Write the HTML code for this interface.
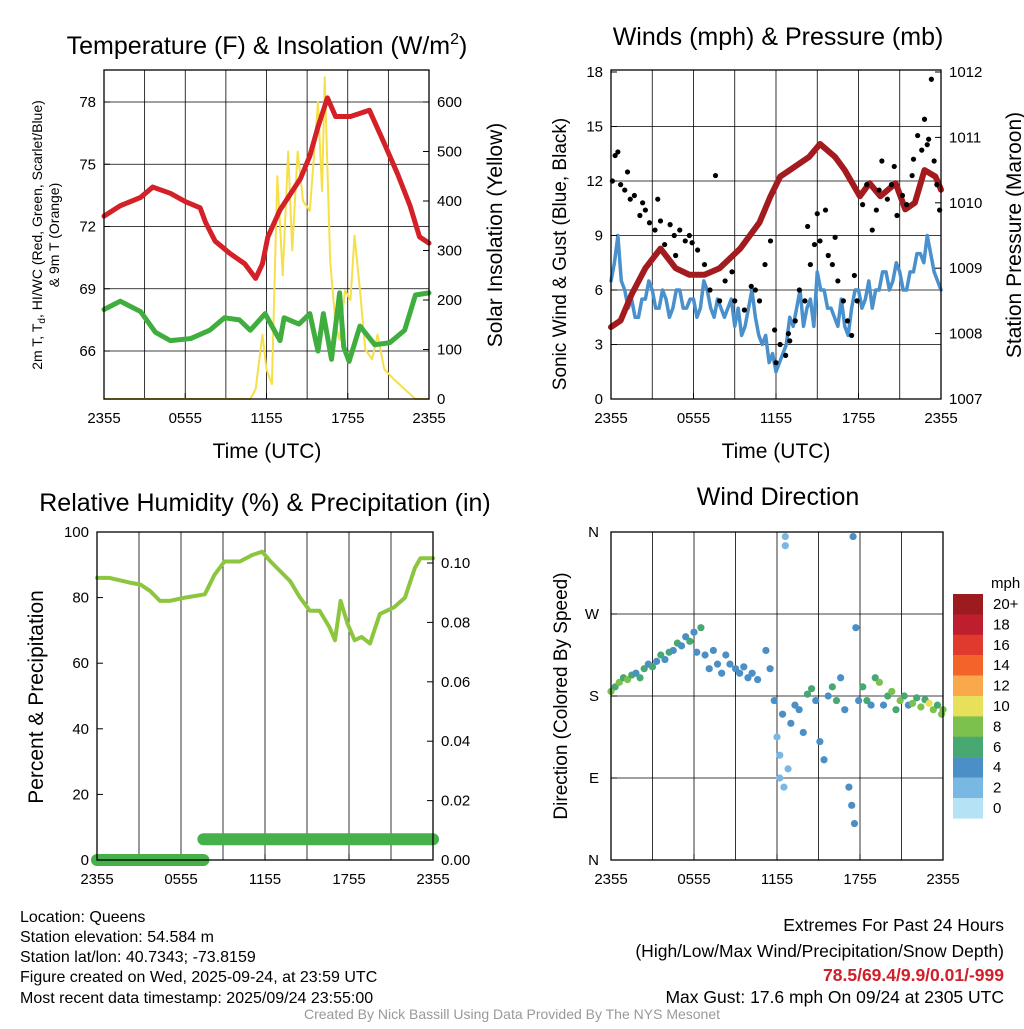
<!DOCTYPE html>
<html><head><meta charset="utf-8"><style>
body{margin:0;background:#fff;}
svg{font-family:"Liberation Sans",sans-serif;}
.t{font-size:15px;fill:#000}
</style></head><body>
<svg id="s" width="1024" height="1024" viewBox="0 0 1024 1024" xmlns="http://www.w3.org/2000/svg">
<g font-size="25">
<text x="267" y="54" text-anchor="middle">Temperature (F) &amp; Insolation (W/m<tspan font-size="16" dy="-10">2</tspan><tspan dy="10">)</tspan></text>
<text x="778" y="45" text-anchor="middle">Winds (mph) &amp; Pressure (mb)</text>
<text x="265" y="511" text-anchor="middle">Relative Humidity (%) &amp; Precipitation (in)</text>
<text x="778" y="505" text-anchor="middle">Wind Direction</text>
</g>
<g font-size="21">
<text x="267" y="458" text-anchor="middle">Time (UTC)</text>
<text x="776" y="458" text-anchor="middle">Time (UTC)</text>
<text transform="translate(502,235) rotate(-90)" text-anchor="middle">Solar Insolation (Yellow)</text>
<text transform="translate(566,254) rotate(-90)" text-anchor="middle" font-size="19">Sonic Wind &amp; Gust (Blue, Black)</text>
<text transform="translate(1021,235) rotate(-90)" text-anchor="middle">Station Pressure (Maroon)</text>
<text transform="translate(43,697) rotate(-90)" text-anchor="middle">Percent &amp; Precipitation</text>
<text transform="translate(567,696) rotate(-90)" text-anchor="middle" font-size="19">Direction (Colored By Speed)</text>
<text transform="translate(42,235) rotate(-90)" text-anchor="middle" font-size="14">2m T, T<tspan font-size="10" dy="3">d</tspan><tspan dy="-3">, HI/WC (Red, Green, Scarlet/Blue)</tspan></text>
<text transform="translate(59,235) rotate(-90)" text-anchor="middle" font-size="14">&amp; 9m T (Orange)</text>
</g>
<g font-size="16">
<text x="20" y="922">Location: Queens</text>
<text x="20" y="942">Station elevation: 54.584 m</text>
<text x="20" y="962">Station lat/lon: 40.7343; -73.8159</text>
<text x="20" y="982">Figure created on Wed, 2025-09-24, at 23:59 UTC</text>
<text x="20" y="1003">Most recent data timestamp: 2025/09/24 23:55:00</text>
</g>
<g font-size="17.5" text-anchor="end">
<text x="1004" y="931">Extremes For Past 24 Hours</text>
<text x="1004" y="957">(High/Low/Max Wind/Precipitation/Snow Depth)</text>
<text x="1004" y="981" fill="#d0202a" font-weight="bold">78.5/69.4/9.9/0.01/-999</text>
<text x="1004" y="1003">Max Gust: 17.6 mph On 09/24 at 2305 UTC</text>
</g>
<text x="512" y="1019" text-anchor="middle" font-size="14" fill="#999">Created By Nick Bassill Using Data Provided By The NYS Mesonet</text>
</svg>
<script>
// ---- data ----
const xTickLabels=["2355","0555","1155","1755","2355"];
const tempHours=[0,1.2,2.7,3.6,4.9,6,7.1,7.5,8.2,9.3,10.4,11.2,11.7,12.1,13,13.7,14.5,15.2,15.8,16.5,17.1,18.2,19.6,20.7,21.7,22.6,23.3,24];
const tempVals=[72.5,73.0,73.4,73.9,73.6,73.2,72.9,72.2,71.3,70.7,70.2,69.5,70.2,71.5,72.8,73.5,74.3,75.4,76.8,78.2,77.3,77.3,77.6,76,74.5,73,71.5,71.2];
const dewHours=[0,1.2,2.7,3.8,4.9,6.4,7.8,8.9,10,10.8,11.9,12.4,13,13.3,14.4,15.2,15.8,16.2,16.8,17.4,17.7,18.1,18.9,20,21.1,22.2,23,24];
const dewVals=[68.0,68.4,67.9,66.9,66.5,66.6,67.0,67.6,67.5,67.0,67.8,67.2,66.5,67.6,67.3,67.8,66.0,67.8,65.6,68.8,66.2,65.5,67.2,66.3,66.4,67.0,68.7,68.8];
const solarHours=[0,10.8,11.2,11.7,12.0,12.4,12.8,13.2,13.6,13.9,14.3,14.7,15.2,15.5,15.8,16.1,16.3,16.7,17.1,17.4,17.8,18.2,18.5,18.9,19.3,19.8,20.2,20.7,21.4,22.2,23,24];
const solarVals=[0,0,20,130,60,30,450,250,500,300,500,400,380,490,600,420,650,280,150,120,220,200,330,220,100,80,130,60,40,20,0,0];
const windHours=[0,0.25,0.5,0.75,1,1.25,1.5,1.75,2,2.25,2.5,2.75,3,3.25,3.5,3.75,4,4.25,4.5,4.75,5,5.25,5.5,5.75,6,6.25,6.5,6.75,7,7.25,7.5,7.75,8,8.25,8.5,8.75,9,9.25,9.5,9.75,10,10.25,10.5,10.75,11,11.25,11.5,11.75,12,12.25,12.5,12.75,13,13.25,13.5,13.75,14,14.25,14.5,14.75,15,15.25,15.5,15.75,16,16.25,16.5,16.75,17,17.25,17.5,17.75,18,18.25,18.5,18.75,19,19.25,19.5,19.75,20,20.25,20.5,20.75,21,21.25,21.5,21.75,22,22.25,22.5,22.75,23,23.25,23.5,23.75,24];
const windVals=[6.5,7.5,9,6.5,6,5,5.5,4.5,4.5,5.5,5.5,6.5,6,5,5,6,5.5,4.5,5,6,6,5,5,5.5,5.5,4.5,5,6.5,6,5,4.5,5.5,5,4.5,5,5.5,4,5,3.5,4,5,6,4.5,3.5,3,3.5,2,2.5,1.5,2,2.5,3,4.5,4,5,6,4,5,5.5,4,7,6,6,5,5,4.5,4,5.5,4,3.5,5,6,6,5,5.5,6.5,5,6,6,7,7,6,6.5,7.5,7,6,6,7,7,8,8,7.5,9,8,7,6.5,6];
const gustHours=[0.3,0.5,0.1,0.7,1,1.4,1.7,2.1,2.5,2.8,3.2,3.6,3.9,4.3,4.7,5,5.4,5.7,6.3,6.8,7.2,7.6,7.9,8.3,9,9.7,10.5,10.8,11.2,11.6,11.9,12.3,12.7,13,13.4,13.7,14.1,14.5,14.8,15.2,15.6,15.8,16.1,16.5,16.9,17.2,17.5,17.9,18.3,18.6,19,19.3,19.7,20.1,20.4,20.8,21.2,21.5,21.9,22.3,22.6,22.8,23.1,23.3,23.5,23.7,23.9,1.2,2.3,3.4,4.6,5.9,8.8,10.2,12.0,12.9,14.3,15.0,16.3,17.7,19.5,20.6,22.0,23.0];
const gustVals=[13.4,13.6,12.0,11.8,11.5,11,11.2,10.1,10.4,9.7,9.3,9.8,8.5,9.6,7.9,9.3,8.7,9,8.2,7.4,6,12.3,5.4,6.5,5.4,4.9,6,5.4,7.4,8.7,3.8,3,2.4,3.2,4.3,6,5.4,7.4,8.5,8.7,10.4,7.9,7.4,6.5,5.4,4.3,3.5,5.4,10.7,11.8,9.3,10.4,13.1,11,11.8,10.1,11.2,10.7,12.3,14.5,13.7,15.4,14.3,17.6,13.1,11.8,10.4,12.5,10.8,11,9,8.6,7,6.2,2.0,3.6,9.5,10.2,8.9,6.8,11.5,12.8,13.2,14.0];
const presHours=[0,0.7,1.5,2.5,3.6,4.7,5.7,6.8,7.9,9.4,10.8,11.6,12.3,13,14.4,15.2,16.3,17,18.1,18.8,19.6,20.7,21.4,22.1,22.8,23.6,24];
const presVals=[1008.1,1008.2,1008.6,1009.0,1009.3,1009.0,1008.9,1008.9,1009.0,1009.3,1009.7,1010.1,1010.4,1010.5,1010.7,1010.9,1010.7,1010.5,1010.1,1010.3,1010.1,1010.3,1009.9,1010.0,1010.5,1010.4,1010.2];
const rhHours=[0,0.9,2.4,3.1,3.8,4.5,5.2,6.3,7.7,8.4,9.1,10.2,11.1,11.8,12.4,13.1,13.8,14.5,15.2,15.9,16.6,17.0,17.4,17.9,18.4,18.9,19.5,20.2,21.2,22.0,22.7,23.1,24];
const rhVals=[86,86,84.5,84,82,79,79,80,81,87,91,91,93,94,91,88,85,80,76,76,71,67,79,72,67,68,66,75,77,80,89,92,92];
const precipSegStart=[0,7.6];
const precipSegEnd=[7.6,24];
const precipVals=[0,0.007];
const dirHours=[0,0.3,0.6,0.9,1.2,1.5,1.8,2.1,2.4,2.7,3.0,3.3,3.6,3.9,4.2,4.5,4.8,5.1,5.4,5.7,6.0,6.2,6.5,6.8,7.1,7.4,7.7,8.0,8.3,8.6,9.0,9.3,9.6,9.9,10.2,10.6,11.2,11.5,11.8,12,12.2,12.4,12.2,12.5,12.8,12.6,12.6,13.0,13.3,13.6,13.9,14.2,14.5,14.8,15.1,15.4,15.7,16.0,16.3,16.6,16.9,17.2,17.4,17.6,17.5,17.7,17.9,18.2,18.5,18.8,19.1,19.4,19.7,20.0,20.3,20.6,20.9,21.2,21.5,21.8,22.1,22.4,22.7,23.0,23.3,23.6,23.9,24];
const dirVals=[185,190,195,200,198,203,205,200,210,215,212,218,225,220,228,230,238,235,245,240,250,228,255,225,210,230,215,205,225,215,210,205,212,200,205,198,230,210,175,135,115,160,90,80,100,355,345,150,170,165,140,182,188,175,130,110,180,190,175,200,165,80,60,40,355,255,175,190,175,170,200,195,170,180,185,165,175,180,170,172,178,168,176,172,165,170,160,165];
const dirSpeeds=[8,6,8,6,8,6,4,6,6,4,6,4,6,4,6,4,6,4,4,6,4,4,6,4,4,4,4,4,4,4,4,4,4,4,4,4,4,4,4,2,2,4,2,2,2,2,2,4,4,4,4,6,6,4,4,4,4,6,6,4,4,4,4,4,4,4,4,6,6,4,6,8,4,6,8,6,8,6,4,8,6,8,6,10,8,6,8,8];
const cbarLabels=["20+","18","16","14","12","10","8","6","4","2","0"];
const cbarColors=["#9b1b1e","#be1e2d","#e03a2e","#f2642a","#f9a94b","#e8e05a","#7cc04e","#48a872","#4a8fc6","#7ab8e4","#b6e2f6"];
const tempTicks=[66,69,72,75,78];
const solarTicks=[0,100,200,300,400,500,600];
const windTicks=[0,3,6,9,12,15,18];
const presTicks=[1007,1008,1009,1010,1011,1012];
const rhTicks=[0,20,40,60,80,100];
const prTicks=[0,0.02,0.04,0.06,0.08,0.10];
const dirLabels=["N","E","S","W","N"];
const dirTicks=[0,90,180,270,360];

const S=document.getElementById('s');
const NS="http://www.w3.org/2000/svg";
function mk(tag,parent){const e=document.createElementNS(NS,tag);parent.appendChild(e);return e;}
function lin(d0,d1,r0,r1){return v=>r0+(v-d0)*(r1-r0)/(d1-d0);}

function frame(P,name){
  const g=mk('g',S);
  
  
  const X=lin(0,24,P.x0,P.x1);
  for(let h=3;h<24;h+=3){const l=mk('line',g);l.setAttribute('x1',X(h));l.setAttribute('x2',X(h));l.setAttribute('y1',P.y0);l.setAttribute('y2',P.y1);l.setAttribute('stroke','#000');l.setAttribute('stroke-width','0.8');
    
    }
  P.hlines.forEach(y=>{const l=mk('line',g);l.setAttribute('x1',P.x0);l.setAttribute('x2',P.x1);l.setAttribute('y1',y);l.setAttribute('y2',y);l.setAttribute('stroke','#000');l.setAttribute('stroke-width','0.8');
    
    });
  xTickLabels.forEach((t,i)=>{const x=X(i*6);const tx=mk('text',g);tx.setAttribute('x',x);tx.setAttribute('y',P.y1+24);tx.setAttribute('class','t');tx.setAttribute('text-anchor','middle');tx.textContent=t;
    
    
    const k=mk('line',g);k.setAttribute('x1',x);k.setAttribute('x2',x);k.setAttribute('y1',P.y1);k.setAttribute('y2',P.y1-6);k.setAttribute('stroke','#000');});
  return {g,X};
}
function border(g,P){const r=mk('rect',g);r.setAttribute('x',P.x0);r.setAttribute('y',P.y0);r.setAttribute('width',P.x1-P.x0);r.setAttribute('height',P.y1-P.y0);r.setAttribute('fill','none');r.setAttribute('stroke','#000');r.setAttribute('stroke-width','1.3');
  
  }
function yticks(g,P,ticks,Y,side,fmt){ticks.forEach(v=>{const y=Y(v);const t=mk('text',g);t.setAttribute('class','t');t.setAttribute('y',y+5);
  if(side==='l'){t.setAttribute('x',P.x0-8);t.setAttribute('text-anchor','end');}else{t.setAttribute('x',P.x1+8);}
  t.textContent=fmt?fmt(v):v;
  
  
  const k=mk('line',g);const xx=side==='l'?P.x0:P.x1;k.setAttribute('x1',xx);k.setAttribute('x2',side==='l'?xx+6:xx-6);k.setAttribute('y1',y);k.setAttribute('y2',y);k.setAttribute('stroke','#000');});}
function line(g,X,Y,hs,vs,color,w,name){const p=mk('polyline',g);p.setAttribute('points',hs.map((h,i)=>X(h)+','+Y(vs[i])).join(' '));p.setAttribute('fill','none');p.setAttribute('stroke',color);p.setAttribute('stroke-width',w);p.setAttribute('stroke-linejoin','round');p.setAttribute('stroke-linecap','round');
  
  }

// Panel 1
{const P={x0:104,x1:429,y0:70,y1:399};
 const Yt=lin(66,78,351,102),Ys=lin(0,600,399,102);
 P.hlines=tempTicks.map(Yt);
 const {g,X}=frame(P,'temperature-panel');
 line(g,X,Ys,solarHours,solarVals,'#f5e04a',2,'solar-line');
 line(g,X,Yt,dewHours,dewVals,'#3fae3f',5,'dewpoint-line');
 line(g,X,Yt,tempHours,tempVals,'#d42027',5,'temperature-line');
 border(g,P);yticks(g,P,tempTicks,Yt,'l');yticks(g,P,solarTicks,Ys,'r');}
// Panel 2
{const P={x0:611,x1:941,y0:70,y1:399};
 const Yw=lin(0,18,399,72),Yp=lin(1007,1012,399,72);
 P.hlines=windTicks.slice(1,6).map(Yw);
 const {g,X}=frame(P,'wind-panel');
 line(g,X,Yw,windHours,windVals,'#4a90cc',3.5,'wind-line');
 line(g,X,Yp,presHours,presVals,'#a31a1f',6,'pressure-line');
 gustHours.forEach((h,i)=>{const c=mk('circle',g);c.setAttribute('cx',X(h));c.setAttribute('cy',Yw(gustVals[i]));c.setAttribute('r',2.6);c.setAttribute('fill','#000');
   
   });
 border(g,P);yticks(g,P,windTicks,Yw,'l');yticks(g,P,presTicks,Yp,'r');}
// Panel 3
{const P={x0:97,x1:433,y0:532,y1:860};
 const Yr=lin(0,100,860,532),Yq=lin(0,0.10,860,563);
 P.hlines=[];
 const {g,X}=frame(P,'humidity-panel');
 line(g,X,Yr,rhHours,rhVals,'#8cc63f',4,'humidity-line');
 precipVals.forEach((v,i)=>{const l=mk('line',g);l.setAttribute('x1',X(precipSegStart[i]));l.setAttribute('x2',X(precipSegEnd[i]));l.setAttribute('y1',Yq(v));l.setAttribute('y2',Yq(v));l.setAttribute('stroke','#46b04a');l.setAttribute('stroke-width','12');l.setAttribute('stroke-linecap','round');
   
   });
 border(g,P);yticks(g,P,rhTicks,Yr,'l');yticks(g,P,prTicks,Yq,'r',v=>v.toFixed(2));}
// Panel 4
{const P={x0:611,x1:943,y0:532,y1:860};
 const Yd=lin(0,360,860,532);
 P.hlines=dirTicks.slice(1,4).map(Yd);
 const {g,X}=frame(P,'direction-panel');
 dirHours.forEach((h,i)=>{const c=mk('circle',g);c.setAttribute('cx',X(h));c.setAttribute('cy',Yd(dirVals[i]));c.setAttribute('r',3.6);
   c.setAttribute('fill',cbarColors[10-Math.min(10,Math.floor(dirSpeeds[i]/2))]);
   
   });
 border(g,P);
 dirTicks.forEach((v,i)=>{const t=mk('text',g);t.setAttribute('class','t');t.setAttribute('x',P.x0-12);t.setAttribute('y',Yd(v)+5);t.setAttribute('text-anchor','end');t.textContent=dirLabels[i];
   
   
   const k=mk('line',g);k.setAttribute('x1',P.x0);k.setAttribute('x2',P.x0+6);k.setAttribute('y1',Yd(v));k.setAttribute('y2',Yd(v));k.setAttribute('stroke','#000');});
 const cb=mk('g',S);
 
 
 const tt=mk('text',cb);tt.setAttribute('x',991);tt.setAttribute('y',588);tt.setAttribute('class','t');tt.textContent='mph';
 cbarColors.forEach((c,i)=>{const r=mk('rect',cb);r.setAttribute('x',953);r.setAttribute('y',594+i*20.4);r.setAttribute('width',30);r.setAttribute('height',20.6);r.setAttribute('fill',c);
   
   
   const t=mk('text',cb);t.setAttribute('x',993);t.setAttribute('y',609+i*20.4);t.setAttribute('class','t');t.textContent=cbarLabels[i];
   
   });}
</script>
</body></html>
